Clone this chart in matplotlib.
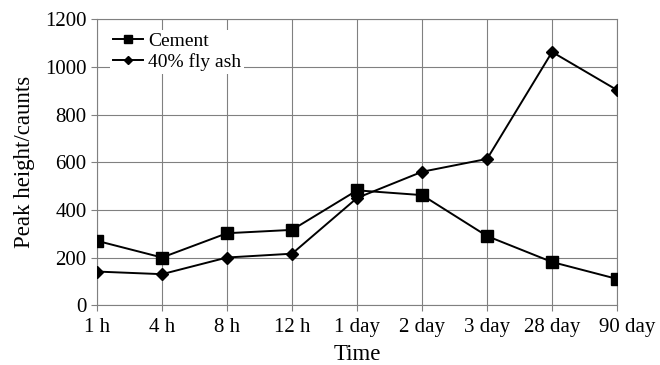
import matplotlib
matplotlib.use("Agg")
import matplotlib.pyplot as plt
from matplotlib.transforms import ScaledTranslation

plt.rcParams['font.family'] = ['Liberation Serif', 'DejaVu Serif']

times = ["1 h", "4 h", "8 h", "12 h", "1 day", "2 day", "3 day", "28 day", "90 day"]
cement = [270, 200, 302, 316, 482, 462, 290, 181, 110]
fly_ash = [141, 130, 200, 216, 450, 560, 614, 1063, 903]

fig = plt.figure(figsize=(6.6, 3.65), dpi=100)
ax = fig.add_axes([0.147, 0.164, 0.788, 0.783])

x = range(len(times))
ax.plot(x, cement, color="black", lw=1.4, marker="s", markersize=8, label="Cement", zorder=3)
ax.plot(x, fly_ash, color="black", lw=1.4, marker="D", markersize=6, label="40% fly ash", zorder=3)

ax.set_xlim(0, len(times) - 1)
ax.set_ylim(0, 1200)
ax.set_yticks(range(0, 1201, 200))
ax.set_xticks(list(x))
ax.set_xticklabels(times)
ax.grid(True, color="#808080", lw=0.8)
ax.set_axisbelow(True)
for s in ax.spines.values():
    s.set_color("#808080")
    s.set_linewidth(0.8)
ax.tick_params(axis="both", labelsize=15, color="#808080", length=4, width=0.8)
ax.tick_params(axis="x", pad=5)

# last label is pushed right like in the original
last = ax.get_xticklabels()[-1]
last.set_transform(last.get_transform() + ScaledTranslation(0.1, 0, fig.dpi_scale_trans))

ax.set_xlabel("Time", fontsize=16.5, labelpad=5)
ax.set_ylabel("Peak height/caunts", fontsize=16.5, labelpad=7)

leg = ax.legend(loc="upper left", frameon=True, fontsize=14, handlelength=1.55,
                handletextpad=0.25, borderpad=0.15, labelspacing=0.15, markerscale=0.65,
                bbox_to_anchor=(0.025, 0.964), borderaxespad=0)
leg.get_frame().set_edgecolor("none")
leg.get_frame().set_alpha(1)
leg.get_frame().set_boxstyle("square", pad=0)

fig.savefig("out.png", dpi=100)
